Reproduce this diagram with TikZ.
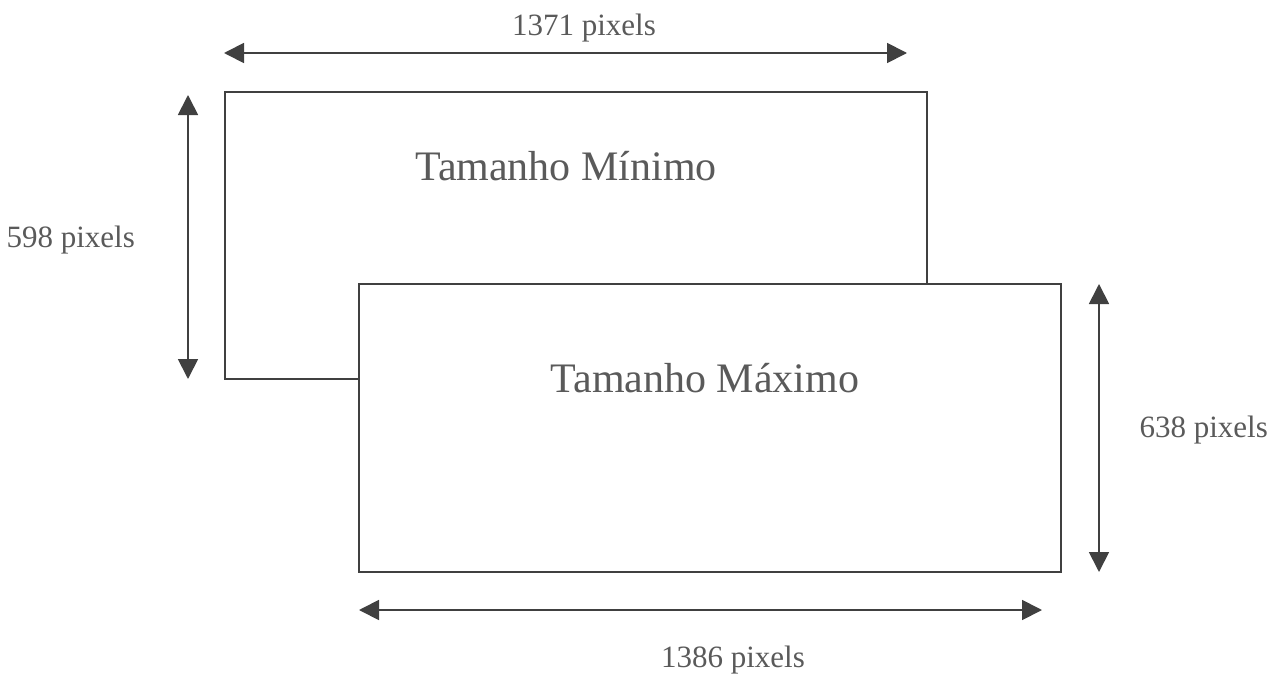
\documentclass[tikz,border=0pt]{standalone}
\usepackage{fontspec}
\setmainfont{Liberation Serif}
\usetikzlibrary{arrows.meta}
\definecolor{inkline}{HTML}{404040}
\definecolor{inktext}{HTML}{5A5A5A}
\begin{document}
\begin{tikzpicture}[x=1pt,y=-1pt,
  frame/.style={draw=inkline,line width=1.6pt,fill=white,inner sep=0pt,anchor=north west},
  dimarrow/.style={draw=inkline,line width=1.8pt,{Triangle[length=20pt,width=20pt]}-{Triangle[length=20pt,width=20pt]}},
  title/.style={text=inktext,font=\fontsize{42}{48}\selectfont},
  dimlabel/.style={text=inktext,font=\fontsize{31}{36}\selectfont}]
\useasboundingbox[fill=white] (0,0) rectangle (1270,677);
% smallest window, then the largest one drawn over it
\node[frame,minimum width=702pt,minimum height=287pt] (minwin) at (224,91) {};
\node[frame,minimum width=702pt,minimum height=288pt] (maxwin) at (358,283) {};
\node[title] (mintitle) at (566,166) {Tamanho Mínimo};
\node[title] (maxtitle) at (705,378) {Tamanho Máximo};
% dimension arrows
\coordinate (wminL) at (224,53);  \coordinate (wminR) at (907,53);
\coordinate (hminT) at (188,95);  \coordinate (hminB) at (188,379);
\coordinate (hmaxT) at (1099,284); \coordinate (hmaxB) at (1099,572);
\coordinate (wmaxL) at (359,610); \coordinate (wmaxR) at (1042,610);
\draw[dimarrow] (wminL) -- (wminR);
\draw[dimarrow] (hminT) -- (hminB);
\draw[dimarrow] (hmaxT) -- (hmaxB);
\draw[dimarrow] (wmaxL) -- (wmaxR);
% dimension labels
\node[dimlabel] (wminlab) at (584,28) {1371 pixels};
\node[dimlabel,anchor=west] (hminlab) at (3,240) {598 pixels};
\node[dimlabel,anchor=west] (hmaxlab) at (1136,430) {638 pixels};
\node[dimlabel] (wmaxlab) at (733,660) {1386 pixels};
\end{tikzpicture}
\end{document}
